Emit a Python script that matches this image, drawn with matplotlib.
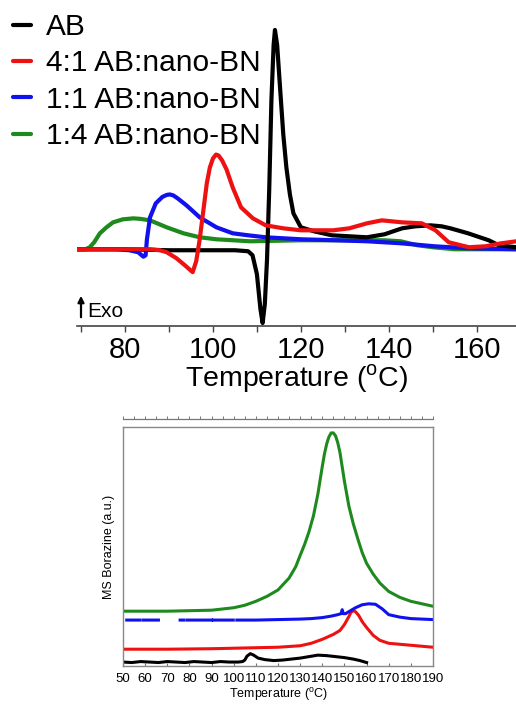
import numpy as np
import matplotlib
matplotlib.use('Agg')
import matplotlib.pyplot as plt

plt.rcParams['font.family'] = ['Liberation Sans', 'DejaVu Sans']
plt.rcParams['mathtext.fontset'] = 'custom'
plt.rcParams['mathtext.rm'] = 'Liberation Sans'

# ---- DSC traces (top), heat flow in arbitrary units, baseline = 0
ab_t = [69, 80, 90, 100, 105, 108, 109, 110, 110.8, 111.3, 111.8, 112.3, 112.8,
        113.3, 113.8, 114.1, 114.6, 115.2, 116.0, 116.7, 117.5, 118.3, 120, 123,
        127, 131, 135, 139, 143, 146, 149.5, 152, 154, 158, 162.7, 165, 169]
ab_y = [0, 0, -1, -1, -1, -2, -6, -25, -60, -74, -55, -10, 60,
        150, 205, 220, 205, 166, 115, 82, 55, 36, 22, 18,
        14, 13, 12, 15, 21, 23, 24, 23, 21, 16, 9, 4, 2]

r41_t = [69, 80, 85.7, 88, 89.5, 91.7, 93.6, 95.4, 96.2, 97, 98, 98.6, 99.3,
         100, 100.7, 101.3, 102.1, 103.1, 104.5, 106.4, 109.1, 112, 116, 120,
         127.3, 131, 135, 138.4, 143, 147.5, 150.6, 153.6, 158.2, 162, 165.6, 169]
r41_y = [0, 0, 0, -1, -3, -9, -16, -23, -12, 10, 45, 66, 82,
         91, 95, 94, 89, 80, 62, 42, 31, 24, 21, 19,
         19, 21, 26, 29, 27, 26, 19, 7, 2, 3, 6, 8]

r11_t = [69, 78, 81, 83, 84.2, 84.7, 85.0, 85.7, 87, 88.5, 89.5, 90.2, 91, 92,
         94, 97, 100.8, 104.5, 108, 112, 120, 128, 135, 142.7, 150.3, 158, 169]
r11_y = [0, 0, -1, -3, -7.5, -6, 10, 32, 46, 52.5, 54.5, 55, 54, 51,
         44, 32, 22, 16, 14, 12, 10, 9, 8, 6, 3, 1, 0]

r14_t = [69, 71, 72, 73, 74.3, 75.8, 77.3, 79.5, 81.9, 83.5, 85.7, 89.5, 93.3,
         97, 100.8, 108.4, 120, 130, 139, 142.7, 146.5, 150, 155, 169]
r14_y = [0, 0, 2, 7, 16, 22, 27, 30, 31, 30.5, 29, 22, 16,
         12, 10, 8, 9, 9, 9, 8, 4, 2, 0, 0]

dsc_labels = ['AB', '4:1 AB:nano-BN', '1:1 AB:nano-BN', '1:4 AB:nano-BN']

# ---- MS borazine traces (bottom), arbitrary units
ms_ab_t = [50, 54, 58, 62, 66, 70, 74, 78, 82, 86, 90, 94, 98, 102, 104, 105,
           106, 107.5, 109, 111, 114, 118, 122, 126, 130, 134, 138, 142, 146,
           150, 154, 157, 160]
ms_ab_y = [2, 1.5, 2.5, 2, 1.5, 2.5, 2, 1.5, 2.5, 2, 1.5, 2.5, 2, 2, 2.5, 4,
           8, 10.5, 9, 6, 4.5, 3.5, 4, 5, 6, 7.5, 9, 8.5, 7.5,
           6.5, 5, 3.5, 1.5]

ms_41_t = [50, 70, 90, 100, 110, 120, 130, 135, 140, 145, 148, 150, 152, 153,
           154, 155, 156.5, 158, 160, 163, 166, 170, 175, 180, 185, 190]
ms_41_y = [15, 15, 15.5, 16, 16.5, 17, 18.5, 21, 25, 30, 34, 40, 48, 52.5,
           54, 53, 49, 43, 37, 29, 24, 21, 20, 19, 18, 17]

nan = np.nan
ms_11_t = [51.7, 57.7, nan, 59.2, 66, nan, 75.8, 77.3, nan, 78.8, 90, nan,
           90.8, 99.8, nan, 101.4, 110, 120, 130, 135, 140, 144, 147, 148.5,
           149.0, 149.5, 150.5, 152, 155, 158, 161, 164, 167, 170, 175, 180,
           185, 190]
ms_11_y = [44.5, 44.5, nan, 44.5, 44.5, nan, 44.5, 44.5, nan, 44.5, 44.5, nan,
           44.5, 44.5, nan, 44.5, 44.5, 45, 45.5, 46, 47, 48.5, 50, 51,
           55, 51, 51, 53, 57, 60, 61, 60.5, 56, 50, 47.5, 46, 45.5, 45]

ms_14_t = [50, 60, 70, 80, 90, 100, 105, 110, 115, 120, 125, 128, 130, 132,
           134, 136, 138, 140, 141, 142, 143, 144, 145, 146, 147, 148, 150,
           152, 154, 156, 158, 160, 163, 166, 170, 175, 180, 185, 190]
ms_14_y = [53.5, 53.5, 53.5, 54, 54.5, 57, 59.5, 63.5, 68.5, 75, 87, 98.5,
           110, 121, 134, 150, 172, 200, 213, 223, 230, 234, 234, 231, 224,
           214, 185, 160, 142, 127, 113, 102, 91, 82, 73.5, 67.5, 63.5, 61,
           58.5]

colors = ['black', '#ee1111', '#1111ee', '#1e8a1e']

fig = plt.figure(figsize=(5.16, 7.04), dpi=100)
W, H = 516.0, 704.0

# top panel: DSC
ax1 = fig.add_axes([77 / W, 1 - 326 / H, (516 - 77) / W, (326 - 18) / H])
series = [(ab_t, ab_y), (r41_t, r41_y), (r11_t, r11_y), (r14_t, r14_y)]
for i in [3, 2, 0, 1]:
    t, y = series[i]
    ax1.plot(t, y, color=colors[i], lw=3.0, label=dsc_labels[i],
             solid_joinstyle='round', solid_capstyle='round')
ax1.set_xlim(69.1, 168.9)
ax1.set_ylim(-77, 232)
for s in ['top', 'right', 'left']:
    ax1.spines[s].set_visible(False)
ax1.spines['bottom'].set_color('#444444')
ax1.spines['bottom'].set_linewidth(1.2)
ax1.set_yticks([])
ax1.set_xticks([80, 100, 120, 140, 160])
ax1.set_xticks([70, 90, 110, 130, 150], minor=True)
ax1.tick_params(axis='x', which='both', direction='out', length=4,
                width=1, color='#444444', labelsize=21, pad=3)
ax1.set_xlabel('Temperature ($^{\\mathrm{o}}$C)', fontsize=20.5, labelpad=-1)

ax1.annotate('', xy=(81 / W, 1 - 293 / H), xytext=(81 / W, 1 - 320 / H),
             xycoords='figure fraction',
             arrowprops=dict(arrowstyle='-|>', color='black', lw=1.6,
                             mutation_scale=9))
fig.text(87 / W, 1 - 312 / H, 'Exo', fontsize=15, va='center', ha='left')

handles, labels = ax1.get_legend_handles_labels()
order = [labels.index(l) for l in dsc_labels]
fig.legend([handles[i] for i in order], [labels[i] for i in order],
           loc='upper left', bbox_to_anchor=(13 / W, 1 - 13 / H),
           frameon=False, fontsize=21.5, handlelength=0.6, handletextpad=0.5,
           labelspacing=0.28, borderpad=0, borderaxespad=0)

# bottom panel: MS borazine
ax2 = fig.add_axes([123 / W, 1 - 666 / H, 310 / W, 239 / H])
ms = [(ms_ab_t, ms_ab_y), (ms_41_t, ms_41_y), (ms_11_t, ms_11_y), (ms_14_t, ms_14_y)]
for i, (t, y) in enumerate(ms):
    ax2.plot(t, y, color=colors[i], lw=2.2)
ax2.set_xlim(50, 190)
ax2.set_ylim(-2, 240)
ax2.set_xticks(np.arange(50, 191, 10))
ax2.set_yticks([])
ax2.tick_params(axis='x', direction='in', length=2, width=0.8, color='#777777',
                labelsize=9.5, pad=5)
for s in ax2.spines.values():
    s.set_color('#888888')
    s.set_linewidth(1.0)
ax2.set_xlabel('Temperature ($^{\\mathrm{o}}$C)', fontsize=9, labelpad=1)
ax2.set_ylabel('MS Borazine (a.u.)', fontsize=9, labelpad=6)

# stray axis line above the frame, as in the original figure
ax3 = ax2.twiny()
ax3.set_xlim(50, 190)
for s in ['bottom', 'left', 'right']:
    ax3.spines[s].set_visible(False)
ax3.spines['top'].set_position(('outward', 6))
ax3.spines['top'].set_color('#777777')
ax3.spines['top'].set_linewidth(0.9)
ax3.set_xticks(np.arange(50, 191, 10))
ax3.set_xticks(np.arange(55, 191, 10), minor=True)
ax3.tick_params(axis='x', which='both', direction='out', length=2, width=0.7,
                color='#777777', labeltop=False)

fig.savefig('out.png', dpi=100)
